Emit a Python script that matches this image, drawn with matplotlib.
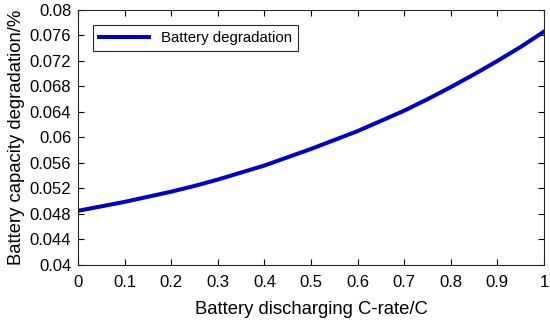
import matplotlib
matplotlib.use("Agg")
import matplotlib.pyplot as plt

plt.rcParams['font.family'] = ['Liberation Sans', 'DejaVu Sans']

c_rate = [0.0, 0.05, 0.1, 0.15, 0.2, 0.25, 0.3, 0.35, 0.4, 0.45, 0.5,
          0.55, 0.6, 0.65, 0.7, 0.75, 0.8, 0.85, 0.9, 0.95, 1.0]
degradation = [0.0485, 0.0492, 0.0499, 0.0507, 0.0515, 0.0524, 0.0534, 0.0545, 0.0556, 0.0569, 0.0582,
               0.0596, 0.0610, 0.0626, 0.0642, 0.0660, 0.0679, 0.0699, 0.0720, 0.0742, 0.0766]
xticks = [0, 0.1, 0.2, 0.3, 0.4, 0.5, 0.6, 0.7, 0.8, 0.9, 1]
xticklabels = ['0', '0.1', '0.2', '0.3', '0.4', '0.5', '0.6', '0.7', '0.8', '0.9', '1']
yticks = [0.04, 0.044, 0.048, 0.052, 0.056, 0.06, 0.064, 0.068, 0.072, 0.076, 0.08]
yticklabels = ['0.04', '0.044', '0.048', '0.052', '0.056', '0.06', '0.064', '0.068', '0.072', '0.076', '0.08']

fig = plt.figure(figsize=(5.5, 3.21), dpi=100)
ax = fig.add_axes([0.142, 0.1745, 0.847, 0.7945])
ax.plot(c_rate, degradation, color='#0000CD', linewidth=2.9, label='Battery degradation',
        solid_joinstyle='round')
ax.set_xlim(0, 1)
ax.set_ylim(0.04, 0.08)
ax.set_xticks(xticks)
ax.set_xticklabels(xticklabels)
ax.set_yticks(yticks)
ax.set_yticklabels(yticklabels)
ax.tick_params(direction='in', top=True, right=True, labelsize=12, length=4.5, width=0.8, pad=5)
ax.tick_params(axis='x', pad=7)
for s in ax.spines.values():
    s.set_linewidth(0.8)
    s.set_color('#262626')
ax.set_xlabel('Battery discharging C-rate/C', fontsize=13.3, labelpad=8)
ax.set_ylabel('Battery capacity degradation/%', fontsize=13.3, labelpad=3)
leg = ax.legend(loc='upper left', bbox_to_anchor=(0.032, 0.941), fancybox=False, edgecolor='#262626',
                fontsize=10.8, handlelength=3.3, borderpad=0.4, borderaxespad=0, framealpha=1)
leg.get_frame().set_linewidth(0.8)
fig.savefig('out.png', dpi=100)
